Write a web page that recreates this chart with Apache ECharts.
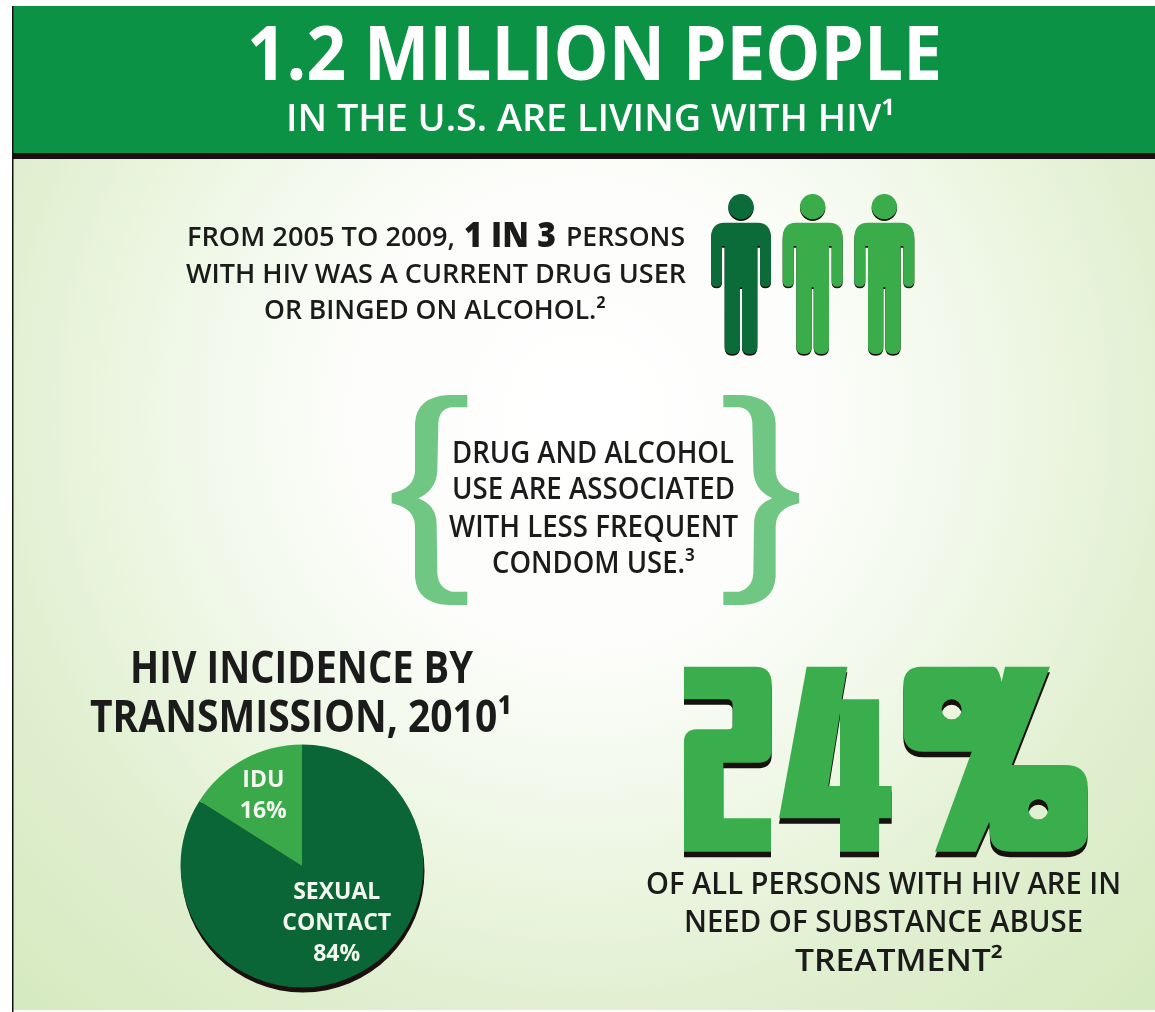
<!DOCTYPE html>
<html>
<head>
<meta charset="utf-8">
<title>HIV and substance use</title>
<style>html,body{margin:0;padding:0;background:#fff}#main{width:1155px;height:1012px}</style>
<script src="https://cdn.jsdelivr.net/npm/echarts@6/dist/echarts.min.js"></script>
</head>
<body>
<div id="main"></div>
<script>
// Transmission shares, 2010
const transmissionNames = ['SEXUAL\nCONTACT', 'IDU'];
const transmissionShares = [84, 16];
const transmissionColors = ['#0a6636', '#3aa949'];

// One figure in three is highlighted
const figureColors = ['#0b6b39', '#3aad4a', '#3aad4a'];

const FONT = '"Open Sans", sans-serif';
const INK = '#1b1b1b';

// Text drawn to an exact width: the face is squeezed horizontally to fit.
// cy is the middle of the capitals, which sit a little above the em-box centre.
const probe = document.createElement('canvas').getContext('2d');
function fitted(str, left, right, cy, size, weight, fill) {
  probe.font = weight + ' ' + size + 'px "Open Sans"';
  const natural = probe.measureText(str).width;
  return {
    type: 'text', silent: true, z: 20, x: left, y: cy + size * 0.075, scaleX: (right - left) / natural,
    style: { text: str, fill: fill || INK, font: weight + ' ' + size + 'px ' + FONT, textAlign: 'left', textVerticalAlign: 'middle', textBaseline: 'middle' }
  };
}

// Person silhouette, body centred on x = 0
const PERSON = 'M-50,158 L50,158 Q90,158 90,205 L90,332 Q90,350 73,350 Q57,350 57,332 L57,228 L49,228 L49,530 Q49,552 26,552 Q3,552 3,530 L3,352 L-3,352 L-3,530 Q-3,552 -26,552 Q-49,552 -49,530 L-49,228 L-57,228 L-57,332 Q-57,350 -73,350 Q-90,350 -90,332 L-90,205 Q-90,158 -50,158 Z ' +
  'M-38,110 A38,38 0 1,1 38,110 A38,38 0 1,1 -38,110 Z';

// Curly bracket, opening to the right
const BRACE = 'M262,45 L262,82 L215,82 Q178,85 175,130 L172,270 Q170,330 115,355 Q170,375 170,435 L172,580 Q175,625 215,635 L262,635 L262,675 L205,675 Q110,670 105,590 L105,440 Q105,385 35,370 L35,340 Q105,325 105,270 L105,130 Q110,50 205,45 Z';

// Heavy block numerals
const BIG_TWO = 'M72,50 L285,50 Q335,50 335,100 L335,300 Q335,335 300,338 L190,338 L190,505 L333,505 L333,605 L72,605 L72,275 Q72,240 110,238 L205,238 Q218,238 218,225 L218,165 Q218,148 200,148 L72,148 Z';
const BIG_FOUR = 'M440,50 L562,50 L545,148 L657,148 L657,408 L695,408 L695,505 L657,505 L657,605 L540,605 L540,505 L357,505 Z M540,190 L505,408 L540,408 Z';
const BIG_PERCENT = 'M785,50 L1000,50 Q1015,50 1025,95 L1035,50 L1170,50 L1055,345 L1215,345 Q1283,345 1283,410 L1283,545 Q1283,605 1215,605 L1050,605 Q990,605 990,550 L988,515 L948,605 L825,605 L935,305 L790,305 Q730,305 730,245 L730,105 Q730,50 785,50 Z ' +
  'M845,178 A30,30 0 1,0 905,178 A30,30 0 1,0 845,178 Z M1105,478 A30,30 0 1,0 1165,478 A30,30 0 1,0 1105,478 Z';

// The graphic component only knows named shapes, so each outline gets registered
const outlines = { person: PERSON, brace: BRACE, bigTwo: BIG_TWO, bigFour: BIG_FOUR, bigPercent: BIG_PERCENT };
Object.keys(outlines).forEach(function (name) {
  echarts.graphic.registerShape(name, echarts.graphic.extendPath(outlines[name], {}));
});

function outline(name, x, y, sx, sy, fill, z) {
  return { type: name, silent: true, z: z, x: x, y: y, scaleX: sx, scaleY: sy, style: { fill: fill } };
}

const figures = [];
figureColors.forEach(function (c, i) {
  const cx = 680 + (183 + i * 215) / 3;
  figures.push(outline('person', cx, 170 + 1.7, 1 / 3, 1 / 3, '#14100f', 10));
  figures.push(outline('person', cx, 170, 1 / 3, 1 / 3, c, 11));
});

const bigNumber = [];
['bigTwo', 'bigFour', 'bigPercent'].forEach(function (name) {
  bigNumber.push(outline(name, 660, 650 + 5.5, 1 / 3, 1 / 3, '#17110f', 10));
  bigNumber.push(outline(name, 660, 650, 1 / 3, 1 / 3, '#3aae4c', 11));
});

const backdrop = [
  { type: 'rect', silent: true, z: 1, shape: { x: 13, y: 159, width: 1142, height: 851 },
    style: { fill: new echarts.graphic.RadialGradient(0.5, 0.3, 0.95, [
      { offset: 0, color: '#ffffff' }, { offset: 0.3, color: '#fcfdfa' },
      { offset: 0.52, color: '#eff7e6' }, { offset: 0.75, color: '#e0efcf' }, { offset: 1, color: '#d6eac1' }]) } },
  { type: 'rect', silent: true, z: 2, shape: { x: 13, y: 6, width: 1142, height: 147 }, style: { fill: '#0c9245' } },
  { type: 'rect', silent: true, z: 2, shape: { x: 13, y: 153, width: 1142, height: 6 }, style: { fill: '#1a0f12' } },
  { type: 'rect', silent: true, z: 3, shape: { x: 12, y: 6, width: 1.5, height: 1006 }, style: { fill: '#111' } }
];

const texts = [
  fitted('1.2 MILLION PEOPLE', 247, 942, 53, 76, 700, '#fff'),
  fitted('IN THE U.S. ARE LIVING WITH HIV¹', 286, 895, 117, 38, 600, '#fff'),
  fitted('FROM 2005 TO 2009,', 187, 455, 236, 27, 600),
  fitted('1 IN 3', 464, 556, 234, 35, 800),
  fitted('PERSONS', 566, 685, 236, 27, 600),
  fitted('WITH HIV WAS A CURRENT DRUG USER', 186, 686, 273, 27, 600),
  fitted('OR BINGED ON ALCOHOL.²', 264, 606, 309, 27, 600),
  fitted('DRUG AND ALCOHOL', 452, 734, 452, 30, 600),
  fitted('USE ARE ASSOCIATED', 452, 735, 488, 30, 600),
  fitted('WITH LESS FREQUENT', 449, 738, 526, 30, 600),
  fitted('CONDOM USE.³', 492, 695, 562, 30, 600),
  fitted('HIV INCIDENCE BY', 130, 473, 667, 44, 700),
  fitted('TRANSMISSION, 2010¹', 90, 512, 716, 44, 700),
  fitted('OF ALL PERSONS WITH HIV ARE IN', 646, 1121, 883, 31, 600),
  fitted('NEED OF SUBSTANCE ABUSE', 684, 1083, 921, 31, 600),
  fitted('TREATMENT²', 795, 1003, 960, 31, 600)
];

const chart = echarts.init(document.getElementById('main'), null, { renderer: 'canvas' });
chart.setOption({
  animation: false,
  backgroundColor: '#ffffff',
  graphic: { elements: backdrop
    .concat(figures)
    .concat([
      outline('brace', 380, 380, 1 / 3, 1 / 3, '#70c784', 5),
      outline('brace', 380 + 1292 / 3, 380, -1 / 3, 1 / 3, '#70c784', 5)
    ])
    .concat(bigNumber)
    .concat(texts) },
  series: [
    {
      // Dark rim under the pie
      type: 'pie', silent: true, z: 4, center: [303, 871], radius: [0, 121.5], startAngle: 90, clockwise: true,
      label: { show: false }, labelLine: { show: false },
      data: transmissionShares.map(function (v) { return { value: v, itemStyle: { color: '#1c0f10' } }; })
    },
    {
      type: 'pie', silent: true, z: 5, center: [302, 866], radius: [0, 121.5], startAngle: 90, clockwise: true,
      label: {
        show: true, position: 'inner', color: '#f4f7ef', fontFamily: FONT, fontWeight: 700, fontSize: 23, lineHeight: 31,
        formatter: function (p) { return p.name + '\n' + p.value + '%'; }
      },
      labelLine: { show: false },
      labelLayout: function (p) { return p.dataIndex === 1 ? { dx: -8, dy: -14 } : { dx: 4, dy: 2 }; },
      data: transmissionNames.map(function (n, i) {
        return { name: n, value: transmissionShares[i], itemStyle: { color: transmissionColors[i] } };
      })
    }
  ]
});
</script>
</body>
</html>
